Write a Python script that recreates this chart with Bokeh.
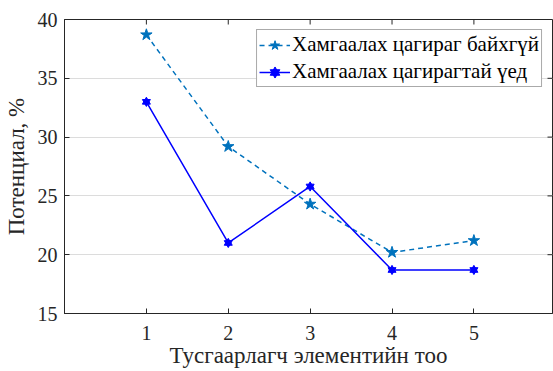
import math
from bokeh.plotting import figure
from bokeh.models import Legend, LegendItem, Range1d, FixedTicker
from bokeh.embed import file_html
from bokeh.resources import INLINE

x_vals = [1, 2, 3, 4, 5]
no_ring = [38.7, 29.2, 24.3, 20.2, 21.2]
with_ring = [33.0, 21.0, 25.8, 18.7, 18.7]
name_no_ring = "Хамгаалах цагираг байхгүй"
name_with_ring = "Хамгаалах цагирагтай үед"
x_label = "Тусгаарлагч элементийн тоо"
y_label = "Потенциал, %"
x_ticks = [1, 2, 3, 4, 5]
y_ticks = [15, 20, 25, 30, 35, 40]

FONT = "Liberation Serif"
DARK = "#262626"

p = figure(width=553, height=371, output_backend="svg", toolbar_location=None,
           x_range=Range1d(0, 5.96), y_range=Range1d(15, 40),
           min_border_left=62, min_border_right=1, min_border_top=19,
           min_border_bottom=58)
p.background_fill_color = "white"
p.border_fill_color = "white"
p.outline_line_color = DARK
p.outline_line_width = 1

p.xgrid.visible = False
p.ygrid.grid_line_color = "#dcdcdc"
p.ygrid.grid_line_width = 1
p.ygrid.ticker = FixedTicker(ticks=y_ticks)

for ax, ticks in ((p.xaxis[0], x_ticks), (p.yaxis[0], y_ticks)):
    ax.ticker = FixedTicker(ticks=ticks)
    ax.axis_line_color = DARK
    ax.major_tick_line_color = DARK
    ax.major_tick_in = 5
    ax.major_tick_out = 0
    ax.minor_tick_line_color = None
    ax.major_label_text_font = FONT
    ax.major_label_text_font_size = "20px"
    ax.major_label_text_color = DARK
    ax.axis_label_text_font = FONT
    ax.axis_label_text_font_size = "23px"
    ax.axis_label_text_font_style = "normal"
    ax.axis_label_text_color = DARK

p.xaxis.axis_label = x_label
p.yaxis.axis_label = y_label
p.xaxis.major_label_standoff = 12
p.xaxis.axis_label_standoff = 0
p.yaxis.major_label_standoff = 7
p.yaxis.axis_label_standoff = 6

# inward ticks on the right and top frame edges
x_end = p.x_range.end
y_end = p.y_range.end
p.ray(x=[x_end] * len(y_ticks), y=y_ticks, length=5, length_units="screen",
      angle=math.pi, line_color=DARK, line_width=1)
p.ray(x=x_ticks, y=[y_end] * len(x_ticks), length=5, length_units="screen",
      angle=-math.pi / 2, line_color=DARK, line_width=1)

c1 = "#0072BD"
c2 = "#0000FF"
l1 = p.line(x_vals, no_ring, line_color=c1, line_width=1.5, line_dash="5 4")
m1 = p.scatter(x_vals, no_ring, marker="star", size=12, fill_color=c1, line_color=c1)
l2 = p.line(x_vals, with_ring, line_color=c2, line_width=1.5)
m2a = p.scatter(x_vals, with_ring, marker="triangle", size=8, fill_color=c2, line_color=c2)
m2b = p.scatter(x_vals, with_ring, marker="inverted_triangle", size=8, fill_color=c2, line_color=c2)

legend = Legend(items=[LegendItem(label=name_no_ring, renderers=[l1, m1]),
                       LegendItem(label=name_with_ring, renderers=[l2, m2a, m2b])],
                location="top_right")
legend.label_text_font = FONT
legend.label_text_font_size = "21px"
legend.label_text_color = "black"
legend.label_height = 24
legend.glyph_height = 24
legend.border_line_color = "#555555"
legend.border_line_width = 1
legend.background_fill_color = "white"
legend.background_fill_alpha = 1
legend.margin = 10
legend.padding = 2
legend.spacing = 2
legend.glyph_width = 31
legend.label_standoff = 2
p.add_layout(legend, "center")

open("out.html", "w").write(file_html(p, INLINE))
